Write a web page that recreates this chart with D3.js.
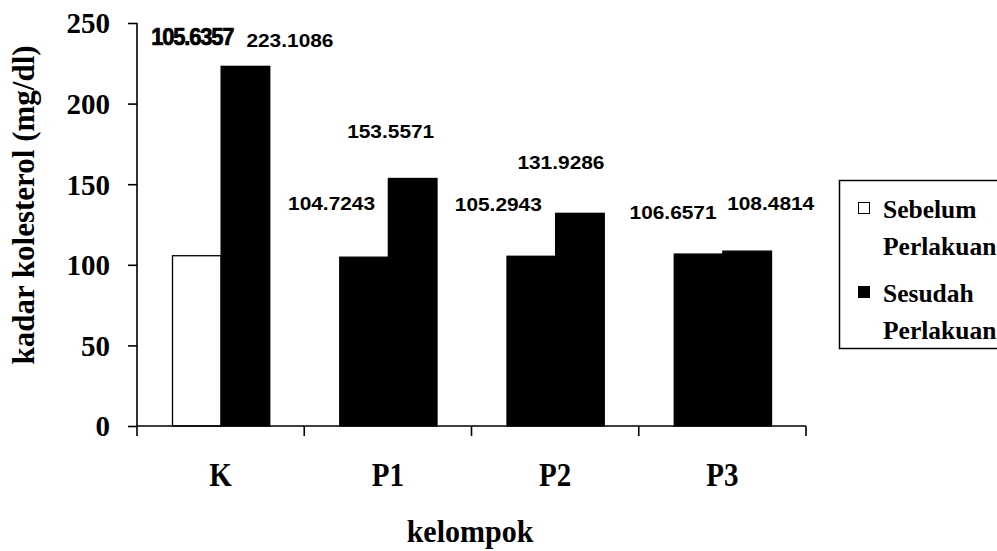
<!DOCTYPE html>
<html>
<head>
<meta charset="utf-8">
<script src="https://cdn.jsdelivr.net/npm/d3@7"></script>
<style>
  html, body { margin: 0; padding: 0; background: #fff; }
  svg { display: block; }
  .serif { font-family: "Liberation Serif", "Times New Roman", serif; font-weight: bold; }
  .sans { font-family: "Liberation Sans", Arial, sans-serif; font-weight: bold; }
</style>
</head>
<body>
<svg id="chart" width="997" height="551"></svg>
<script>
// ---- data ----
const categories = ["K", "P1", "P2", "P3"];
const seriesNames = ["Sebelum Perlakuan", "Sesudah Perlakuan"];
const sebelum = [105.6357, 104.7243, 105.2943, 106.6571];
const sesudah = [223.1086, 153.5571, 131.9286, 108.4814];
const yTicks = [0, 50, 100, 150, 200, 250];
const yTitle = "kadar kolesterol (mg/dl)";
const xTitle = "kelompok";

// ---- layout (not data) ----
// label offsets relative to bar-top centre: [dx, dy]
const labelOffsetSebelum = [[-4.6, -210.7], [-32.5, -47], [-33, -45], [-25.5, -35]];
const labelOffsetSesudah = [[44.5, -19.4], [-22, -40.5], [-19, -44], [23.5, -41]];
const sebelumFill = ["#fff", "#000", "#000", "#000"];

const svg = d3.select("#chart");

const x0 = d3.scaleBand().domain(categories).range([137, 806]).paddingInner(0).paddingOuter(0);
const x1 = d3.scaleBand().domain([0, 1]).range([35.5, x0.bandwidth() - 34.5]).padding(0);
const y = d3.scaleLinear().domain([0, 250]).range([426, 23]);

// bars
const rows = categories.map((c, i) => ({ c, i, vals: [sebelum[i], sesudah[i]] }));
const g = svg.append("g");
rows.forEach(r => {
  r.vals.forEach((v, s) => {
    const fill = s === 0 ? sebelumFill[r.i] : "#000";
    g.append("rect")
      .attr("x", x0(r.c) + x1(s))
      .attr("y", y(v))
      .attr("width", x1.bandwidth())
      .attr("height", y(0) - y(v))
      .attr("fill", fill)
      .attr("stroke", "#000")
      .attr("stroke-width", 1.3);
  });
});

// axes
const yAxis = d3.axisLeft(y).tickValues(yTicks).tickSize(9).tickPadding(18).tickFormat(d3.format("d"));
const yg = svg.append("g").attr("transform", "translate(137,0)").call(yAxis);
yg.attr("font-family", null).attr("font-size", null);
yg.select(".domain").attr("stroke-width", 1.6).attr("d", "M0,23V426");
yg.selectAll(".tick line").attr("stroke-width", 1.6);
yg.selectAll(".tick text")
  .attr("class", "serif").attr("font-size", 29)
  .attr("fill", "#000").attr("dy", "0.34em");

const xAxis = d3.axisBottom(x0).tickSize(0).tickPadding(0);
const xg = svg.append("g").attr("transform", "translate(0,426)").call(xAxis);
xg.attr("font-family", null).attr("font-size", null);
xg.select(".domain").attr("stroke-width", 1.6).attr("d", "M137,0H806");
xg.selectAll(".tick line").remove();
const bounds = categories.map(c => x0(c)).concat([x0.range()[1]]);
xg.selectAll(".bound").data(bounds).enter().append("line")
  .attr("x1", d => d).attr("x2", d => d).attr("y1", 0).attr("y2", 10)
  .attr("stroke", "#000").attr("stroke-width", 1.6);
xg.selectAll(".tick text")
  .attr("class", "serif").attr("font-size", 29)
  .attr("fill", "#000").attr("dy", null).attr("y", 0)
  .attr("transform", "translate(0,60) scale(1,1.15)");

// data labels
function addLabel(text, cx, cy, heavy) {
  const t = svg.append("text")
    .attr("class", "sans")
    .attr("text-anchor", "middle")
    .attr("fill", "#000")
    .text(text);
  if (heavy) {
    t.attr("font-size", 22).attr("letter-spacing", "-1.2px")
     .attr("stroke", "#000").attr("stroke-width", 0.7)
     .attr("transform", `translate(${cx},${cy}) scale(1,1.05)`);
  } else {
    t.attr("font-size", 18)
     .attr("transform", `translate(${cx},${cy}) scale(1.16,1)`);
  }
}
rows.forEach(r => {
  const cs = x0(r.c) + x1(0) + x1.bandwidth() / 2;
  const ce = x0(r.c) + x1(1) + x1.bandwidth() / 2;
  const o1 = labelOffsetSebelum[r.i], o2 = labelOffsetSesudah[r.i];
  addLabel(sebelum[r.i].toFixed(4), cs + o1[0], y(sebelum[r.i]) + o1[1], r.i === 0);
  addLabel(sesudah[r.i].toFixed(4), ce + o2[0], y(sesudah[r.i]) + o2[1], false);
});

// axis titles
svg.append("text")
  .attr("class", "serif")
  .attr("text-anchor", "middle")
  .attr("font-size", 31)
  .attr("transform", "translate(34,205) rotate(-90)")
  .attr("fill", "#000")
  .text(yTitle);
svg.append("text")
  .attr("class", "serif")
  .attr("text-anchor", "middle")
  .attr("font-size", 30)
  .attr("transform", "translate(470,542) scale(1,1.08)")
  .attr("fill", "#000")
  .text(xTitle);

// legend
const lg = svg.append("g");
lg.append("rect").attr("x", 839.5).attr("y", 180.5).attr("width", 170).attr("height", 168)
  .attr("fill", "#fff").attr("stroke", "#000").attr("stroke-width", 1.5);
const legendFills = ["#fff", "#000"];
const legendBase = [218, 302];
seriesNames.forEach((name, i) => {
  const parts = name.split(" ");
  lg.append("rect").attr("x", 858.5).attr("y", legendBase[i] - 15.5)
    .attr("width", 11).attr("height", 11)
    .attr("fill", legendFills[i]).attr("stroke", "#000").attr("stroke-width", 1);
  parts.forEach((p, j) => {
    lg.append("text")
      .attr("class", "serif")
      .attr("x", 883).attr("y", legendBase[i] + j * 37)
      .attr("font-size", 25.5)
      .attr("fill", "#000")
      .text(p);
  });
});
</script>
</body>
</html>
